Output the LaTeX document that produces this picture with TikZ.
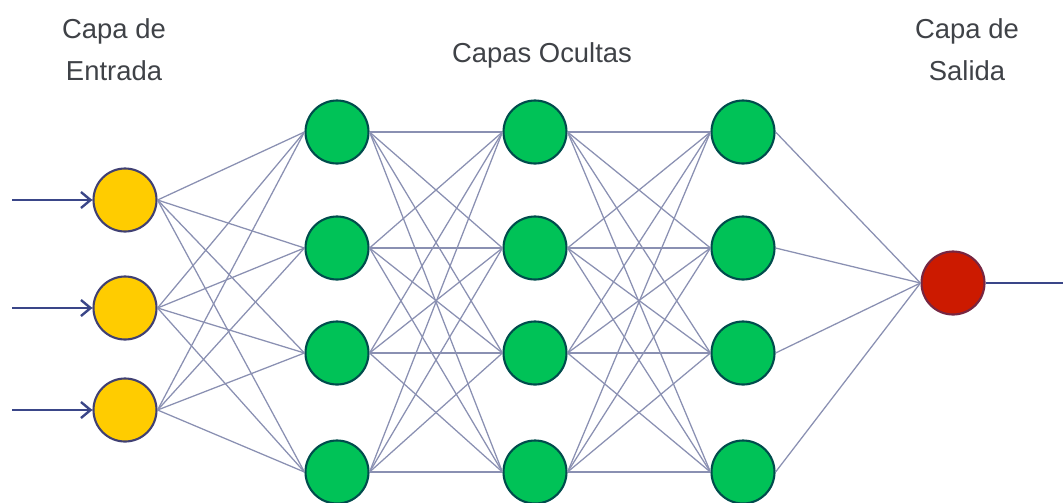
\documentclass[tikz,border=0pt]{standalone}
\usepackage{fontspec}
\setmainfont{Liberation Sans}
\usetikzlibrary{arrows.meta}

\definecolor{textgray}{HTML}{3F4247}
\definecolor{edgeblue}{HTML}{8A90B2}
\definecolor{arrowblue}{HTML}{3A4688}
\definecolor{inyellow}{HTML}{FFCC00}
\definecolor{hidgreen}{HTML}{00C257}
\definecolor{outred}{HTML}{CC1A00}

\tikzset{
  neuron/.style={circle, minimum size=1.575cm, inner sep=0pt, line width=1.5pt},
  capa/.style={text=textgray, anchor=base, font=\fontsize{19.5}{24}\selectfont},
  edge/.style={draw=edgeblue, line width=0.9pt},
  flecha/.style={draw=arrowblue, line width=1.7pt}
}

\begin{document}
\begin{tikzpicture}[x=0.025cm, y=-0.025cm]

  \useasboundingbox (0,0) rectangle (1063,502);

  % --- Titulos de las capas ---
  \node[capa] (ent1) at (114,38) {Capa de};
  \node[capa] (ent2) at (114,80) {Entrada};
  \node[capa] (ocu)  at (542,62) {Capas Ocultas};
  \node[capa] (sal1) at (967,38) {Capa de};
  \node[capa] (sal2) at (967,80) {Salida};

  % --- Capa de entrada ---
  \foreach \i/\y in {1/200, 2/308, 3/410}
    \node[neuron, fill=inyellow, draw=black!60!blue!50!gray] (in\i) at (125,\y) {};

  % --- Capas ocultas ---
  \foreach \l/\x in {1/337, 2/535, 3/743}
    \foreach \i/\y in {1/132, 2/248, 3/353, 4/472}
      \node[neuron, fill=hidgreen, draw=teal!60!black] (h\l\i) at (\x,\y) {};

  % --- Capa de salida ---
  \node[neuron, fill=outred, draw=black!40!purple!70!gray] (out) at (953,283) {};

  % --- Conexiones ---
  \foreach \i in {1,2,3}
    \foreach \j in {1,2,3,4}
      \draw[edge] (in\i.east) -- (h1\j.west);

  \foreach \l/\m in {1/2, 2/3}
    \foreach \i in {1,2,3,4}
      \foreach \j in {1,2,3,4}
        \draw[edge] (h\l\i.east) -- (h\m\j.west);

  \foreach \i in {1,2,3,4}
    \draw[edge] (h3\i.east) -- (out.west);

  % --- Entradas y salida ---
  \foreach \i/\y in {1/200, 2/308, 3/410} {
    \coordinate (src\i) at (12,\y);
    \draw[flecha, -{Straight Barb[length=2.4mm, width=4mm]}] (src\i) -- (in\i.west);
  }
  \coordinate (fin) at (1063,283);
  \draw[flecha] (out.east) -- (fin);

\end{tikzpicture}
\end{document}
